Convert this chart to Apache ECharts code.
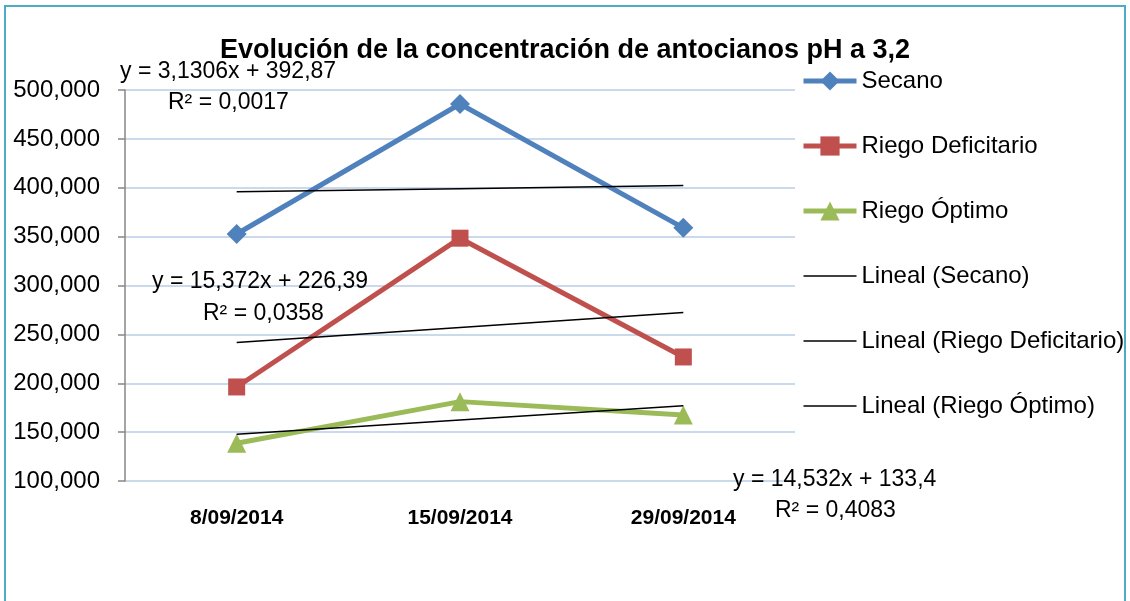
<!DOCTYPE html>
<html>
<head>
<meta charset="utf-8">
<script src="https://cdn.jsdelivr.net/npm/echarts@6/dist/echarts.min.js"></script>
<style>
	html, body { margin: 0; padding: 0; background: #ffffff; }
	#chart { width: 1130px; height: 601px; }
</style>
</head>
<body>
<div id="chart"></div>
<script>
// datos
var fechas = ['8/09/2014', '15/09/2014', '29/09/2014'];
var secano = [352.7, 485.7, 359.0];
var deficitario = [196.2, 348.4, 226.9];
var optimo = [138.6, 181.2, 167.6];
// lineas de tendencia (segun las ecuaciones del grafico)
var secanoTend = [396.0, 399.1, 402.3];
var deficitarioTend = [241.8, 257.1, 272.5];
var optimoTend = [147.9, 162.5, 177.0];
var ecuaciones = [
	['y = 3,1306x + 392,87', 'R² = 0,0017'],
	['y = 15,372x + 226,39', 'R² = 0,0358'],
	['y = 14,532x + 133,4', 'R² = 0,4083']
];

var fuente = '"Liberation Sans", Arial, sans-serif';
var myChart = echarts.init(document.getElementById('chart'));

function texto(t, x, y) {
	return {
		type: 'text',
		left: x,
		top: y,
		z: 100,
		style: {
			text: t,
			fill: '#000000',
			font: '23px ' + fuente
		}
	};
}

var option = {
	backgroundColor: '#ffffff',
	animation: false,
	title: {
		text: 'Evolución de la concentración de antocianos pH a 3,2',
		left: 'center',
		top: 32,
		textStyle: {
			fontFamily: fuente,
			fontSize: 27,
			fontWeight: 'bold',
			color: '#000000'
		}
	},
	legend: {
		orient: 'vertical',
		left: 801,
		top: 69,
		padding: 0,
		itemWidth: 53,
		itemHeight: 24,
		itemGap: 41,
		data: [
			{ name: 'Secano', lineStyle: { width: 5 } },
			{ name: 'Riego Deficitario', lineStyle: { width: 5 } },
			{ name: 'Riego Óptimo', lineStyle: { width: 5 } },
			{ name: 'Lineal (Secano)', lineStyle: { width: 1.5 }, itemStyle: { opacity: 0 } },
			{ name: 'Lineal (Riego Deficitario)', lineStyle: { width: 1.5 }, itemStyle: { opacity: 0 } },
			{ name: 'Lineal (Riego Óptimo)', lineStyle: { width: 1.5 }, itemStyle: { opacity: 0 } }
		],
		textStyle: {
			fontFamily: fuente,
			fontSize: 24,
			color: '#000000'
		}
	},
	grid: {
		left: 125,
		right: 335,
		top: 90,
		bottom: 120
	},
	xAxis: {
		type: 'category',
		data: fechas,
		boundaryGap: true,
		axisLine: { show: false },
		axisTick: { show: false },
		axisLabel: {
			margin: 27,
			fontFamily: fuente,
			fontSize: 21,
			fontWeight: 'bold',
			color: '#000000'
		}
	},
	yAxis: {
		type: 'value',
		min: 100,
		max: 500,
		interval: 50,
		axisLine: { show: true, lineStyle: { color: '#868686', width: 1.5 } },
		axisTick: { show: true, length: 7, lineStyle: { color: '#868686', width: 1.5 } },
		splitLine: { lineStyle: { color: '#b9cde5', width: 1.5 } },
		axisLabel: {
			margin: 25,
			fontFamily: fuente,
			fontSize: 24,
			color: '#000000',
			formatter: function (v) { return v.toFixed(3).replace('.', ','); }
		}
	},
	series: [{
		name: 'Secano',
		type: 'line',
		data: secano,
		symbol: 'diamond',
		symbolSize: 20,
		itemStyle: { color: '#4f81bd' },
		lineStyle: { color: '#4f81bd', width: 5 },
		z: 3
	}, {
		name: 'Riego Deficitario',
		type: 'line',
		data: deficitario,
		symbol: 'rect',
		symbolSize: 17,
		itemStyle: { color: '#c0504d' },
		lineStyle: { color: '#c0504d', width: 5 },
		z: 3
	}, {
		name: 'Riego Óptimo',
		type: 'line',
		data: optimo,
		symbol: 'triangle',
		symbolSize: 19,
		itemStyle: { color: '#9bbb59' },
		lineStyle: { color: '#9bbb59', width: 5 },
		z: 3
	}, {
		name: 'Lineal (Secano)',
		type: 'line',
		data: secanoTend,
		symbol: 'none',
		itemStyle: { color: '#000000' },
		lineStyle: { color: '#000000', width: 1.5 },
		z: 5
	}, {
		name: 'Lineal (Riego Deficitario)',
		type: 'line',
		data: deficitarioTend,
		symbol: 'none',
		itemStyle: { color: '#000000' },
		lineStyle: { color: '#000000', width: 1.5 },
		z: 5
	}, {
		name: 'Lineal (Riego Óptimo)',
		type: 'line',
		data: optimoTend,
		symbol: 'none',
		itemStyle: { color: '#000000' },
		lineStyle: { color: '#000000', width: 1.5 },
		z: 5
	}],
	graphic: [
		{
			type: 'rect',
			shape: { x: 5, y: 6, width: 1120, height: 640 },
			style: { fill: 'none', stroke: '#4bacc6', lineWidth: 2 },
			silent: true
		},
		texto(ecuaciones[0][0], 120, 60),
		texto(ecuaciones[0][1], 168, 91),
		texto(ecuaciones[1][0], 152, 270),
		texto(ecuaciones[1][1], 203, 302),
		texto(ecuaciones[2][0], 733, 468),
		texto(ecuaciones[2][1], 775, 499)
	]
};

myChart.setOption(option);
</script>
</body>
</html>
